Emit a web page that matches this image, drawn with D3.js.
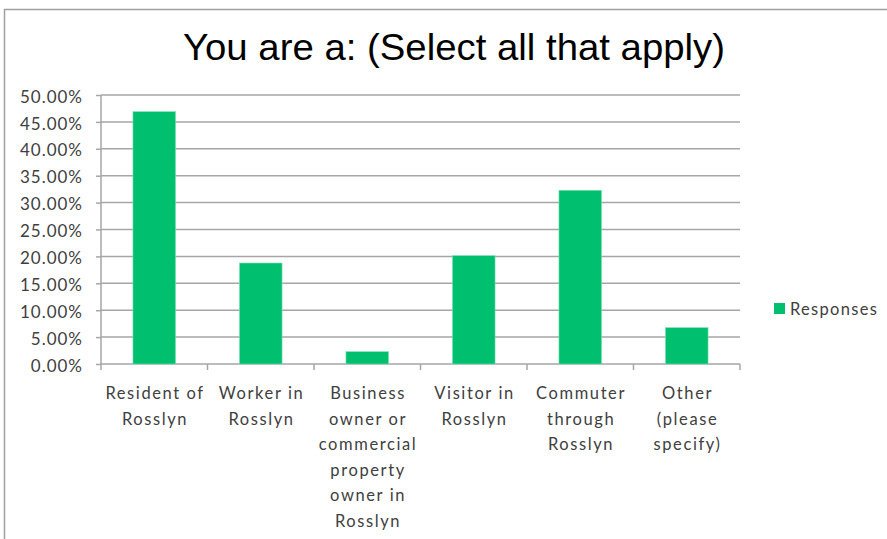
<!DOCTYPE html>
<html><head><meta charset="utf-8">
<script src="https://cdn.jsdelivr.net/npm/d3@7"></script>
<style>html,body{margin:0;padding:0;background:#fff;}svg{display:block;}</style>
</head><body>
<svg id="chart" width="887" height="539"></svg>
<script>
const categories = [
  ["Resident of", "Rosslyn"],
  ["Worker in", "Rosslyn"],
  ["Business", "owner or", "commercial", "property", "owner in", "Rosslyn"],
  ["Visitor in", "Rosslyn"],
  ["Commuter", "through", "Rosslyn"],
  ["Other", "(please", "specify)"]
];
const responses = [0.469, 0.1877, 0.0229, 0.2013, 0.3229, 0.0675];
const yTicks = [0, 0.05, 0.10, 0.15, 0.20, 0.25, 0.30, 0.35, 0.40, 0.45, 0.50];
const seriesName = "Responses";
const title = "You are a: (Select all that apply)";

const svg = d3.select("#chart");
const W = 887, H = 539;
const m = {left: 101, right: 147, top: 95, bottom: 175};
const x = d3.scaleBand().domain(d3.range(categories.length)).range([m.left, W - m.right]).paddingInner(0.6).paddingOuter(0.3);
const y = d3.scaleLinear().domain([0, 0.5]).range([H - m.bottom, m.top]);
const green = "#00BF6F", grid = "#A6A6A6", txt = "#404040";
const font = "Lato, 'Open Sans', sans-serif";

// outer frame
svg.append("rect").attr("x", 4.5).attr("y", 9.5).attr("width", W + 10).attr("height", H + 10)
  .attr("fill", "none").attr("stroke", "#A0A0A0").attr("stroke-width", 1.5);

// title
svg.append("text").attr("x", 454).attr("y", 60).attr("text-anchor", "middle")
  .attr("font-family", "'Liberation Sans', Arial, sans-serif").attr("font-size", 36)
  .attr("fill", "#000").attr("textLength", 542).attr("lengthAdjust", "spacingAndGlyphs").text(title);

// gridlines
svg.append("g").selectAll("line").data(yTicks.slice(1)).join("line")
  .attr("x1", m.left).attr("x2", W - m.right)
  .attr("y1", d => y(d)).attr("y2", d => y(d))
  .attr("stroke", grid).attr("stroke-width", 1.5);

// y axis
const yAxis = d3.axisLeft(y).tickValues(yTicks).tickSize(5).tickPadding(13)
  .tickFormat(d => (d * 100).toFixed(2) + "%");
const gy = svg.append("g").attr("transform", `translate(${m.left},0)`).call(yAxis);
gy.select(".domain").attr("stroke", grid).attr("stroke-width", 1.5).attr("d", `M0,${y(0.5)}V${y(0)}`);
gy.selectAll(".tick line").attr("stroke", grid).attr("stroke-width", 1.5);
gy.selectAll(".tick text").attr("font-family", font).attr("font-size", 17).attr("fill", txt)
  .attr("letter-spacing", 1).attr("dy", "0.42em");

// x axis baseline and ticks at band boundaries
const bounds = d3.range(categories.length + 1).map(i => m.left + i * (W - m.right - m.left) / categories.length);
svg.append("line").attr("x1", m.left).attr("x2", W - m.right).attr("y1", y(0)).attr("y2", y(0))
  .attr("stroke", grid).attr("stroke-width", 1.5);
svg.append("g").selectAll("line").data(bounds).join("line")
  .attr("x1", d => d).attr("x2", d => d).attr("y1", y(0)).attr("y2", y(0) + 6)
  .attr("stroke", grid).attr("stroke-width", 1.5);

// bars
svg.append("g").selectAll("rect").data(responses).join("rect")
  .attr("x", (d, i) => x(i)).attr("width", x.bandwidth())
  .attr("y", d => y(d)).attr("height", d => y(0) - y(d))
  .attr("fill", green).attr("stroke", "#7FE0B5").attr("stroke-width", 0.6);

// category labels
const lab = svg.append("g").selectAll("text").data(categories).join("text")
  .attr("text-anchor", "middle").attr("font-family", font).attr("font-size", 16.5).attr("fill", txt)
  .attr("letter-spacing", 1.6)
  .attr("transform", (d, i) => `translate(${x(i) + x.bandwidth() / 2 + 0.8},${y(0) + 35})`);
lab.selectAll("tspan").data(d => d).join("tspan")
  .attr("x", 0).attr("dy", (d, j) => j === 0 ? 0 : 25.6).text(d => d);

// legend
svg.append("rect").attr("x", 774).attr("y", 303).attr("width", 11).attr("height", 11).attr("fill", green);
svg.append("text").attr("x", 790).attr("y", 314.5).attr("font-family", font).attr("font-size", 16.5)
  .attr("letter-spacing", 1.3).attr("fill", txt).text(seriesName);
</script>
</body></html>
